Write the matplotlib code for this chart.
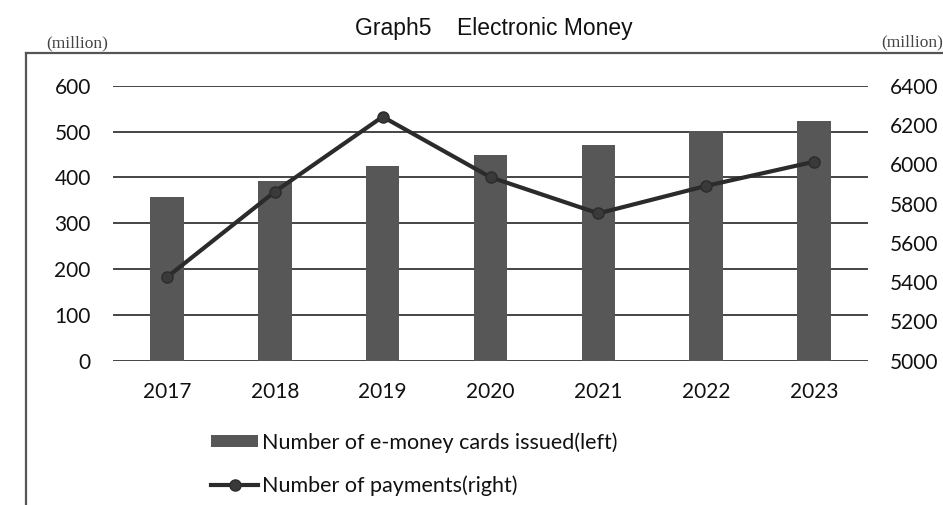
import matplotlib
matplotlib.use("Agg")
import matplotlib.pyplot as plt
from matplotlib.lines import Line2D
from matplotlib.patches import Patch
import numpy as np

# Data (millions)
years = ["2017", "2018", "2019", "2020", "2021", "2022", "2023"]
cards_issued = [357, 391, 425, 449, 471, 501, 522]
payments = [5425, 5860, 6242, 5934, 5750, 5890, 6013]

left_ticks = [0, 100, 200, 300, 400, 500, 600]
right_ticks = [5000, 5200, 5400, 5600, 5800, 6000, 6200, 6400]

W, H = 943, 505
fig = plt.figure(figsize=(W / 100, H / 100), dpi=100)
fig.patch.set_facecolor("white")

tick_font = "Lato"
bar_color = "#575757"
line_color = "#2b2b2b"

# Plot area in pixel coordinates
x0, x1 = 113, 868
y_top, y_bot = 85.7, 360.7
ax = fig.add_axes([x0 / W, 1 - y_bot / H, (x1 - x0) / W, (y_bot - y_top) / H])
ax.set_facecolor("none")

x = np.arange(len(years))
ax.bar(x, cards_issued, width=0.31, color=bar_color, zorder=2)
ax.set_xlim(-0.5, len(years) - 0.5)
ax.set_ylim(0, 600)
ax.set_yticks(left_ticks)
ax.set_xticks(x)
ax.set_xticklabels(years)
ax.yaxis.grid(True, color="#444444", linewidth=1.4, zorder=1)
ax.set_axisbelow(True)
for s in ax.spines.values():
    s.set_visible(False)
ax.tick_params(axis="both", length=0, labelsize=15, colors="#111111")
ax.tick_params(axis="y", pad=16)
ax.tick_params(axis="x", pad=15)
for lab in ax.get_xticklabels() + ax.get_yticklabels():
    lab.set_fontfamily(tick_font)

ax2 = ax.twinx()
ax2.plot(x, payments, color=line_color, linewidth=3.0, marker="o",
         markersize=8, markerfacecolor="#3a3a3a", markeredgecolor=line_color,
         zorder=3)
ax2.set_ylim(5000, 6400)
ax2.set_yticks(right_ticks)
for s in ax2.spines.values():
    s.set_visible(False)
ax2.tick_params(axis="y", length=0, labelsize=15, colors="#111111", pad=16)
for lab in ax2.get_yticklabels():
    lab.set_fontfamily(tick_font)

# Title and unit labels
fig.text(494 / W, 1 - 29 / H, "Graph5    Electronic Money", ha="center",
         va="center", fontsize=16.5, family="Liberation Sans", color="#111111")
fig.text(77 / W, 1 - 43 / H, "(million)", ha="center", va="center",
         fontsize=12.5, family="Liberation Serif", color="#444444")
fig.text(943 / W, 1 - 42 / H, "(million)", ha="right", va="center",
         fontsize=12.5, family="Liberation Serif", color="#444444")

# Outer frame: top rule and left rule
fig.add_artist(Line2D([26 / W, 1], [1 - 53 / H, 1 - 53 / H],
                      transform=fig.transFigure, color="#555555", linewidth=1.6))
fig.add_artist(Line2D([26 / W, 26 / W], [1 - 53 / H, 0],
                      transform=fig.transFigure, color="#555555", linewidth=1.6))

# Legend
handles = [
    Patch(facecolor=bar_color, edgecolor="none"),
    Line2D([], [], color=line_color, linewidth=3.0, marker="o", markersize=8,
           markerfacecolor="#3a3a3a", markeredgecolor=line_color),
]
labels = ["Number of e-money cards issued(left)", "Number of payments(right)"]
fig.legend(handles, labels, loc="center left",
           bbox_to_anchor=(211 / W, 1 - 464 / H), frameon=False,
           prop={"family": tick_font, "size": 15.5}, handlelength=2.2,
           handleheight=0.45, handletextpad=0.15, labelspacing=1.05,
           borderpad=0, borderaxespad=0, labelcolor="#111111")

fig.savefig("out.png", dpi=100, facecolor="white")
